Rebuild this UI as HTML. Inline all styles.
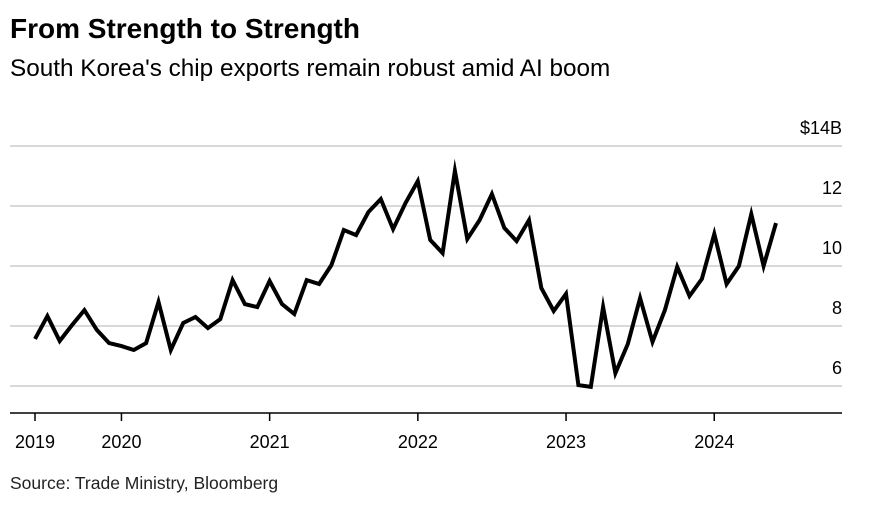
<!DOCTYPE html>
<html><head><meta charset="utf-8">
<style>
body{margin:0;background:#fff;font-family:"Liberation Sans",Arial,sans-serif;}
#wrap{position:relative;width:872px;height:511px;overflow:hidden;}
.t{position:absolute;left:10px;white-space:nowrap;color:#000;}
</style></head><body>
<div id="wrap">
<div class="t" style="top:13px;font-size:28px;font-weight:bold;">From Strength to Strength</div>
<div class="t" style="top:55px;font-size:24.3px;">South Korea's chip exports remain robust amid AI boom</div>
<svg id="chart" width="872" height="511" style="position:absolute;left:0;top:0"></svg>
<div class="t" style="top:473px;font-size:17.5px;color:#222;">Source: Trade Ministry, Bloomberg</div>
</div>
<script>
const values=[7.57,8.33,7.5,8.03,8.53,7.87,7.43,7.33,7.2,7.43,8.8,7.2,8.1,8.3,7.93,8.23,9.53,8.73,8.63,9.5,8.73,8.4,9.53,9.4,10.03,11.2,11.03,11.8,12.23,11.23,12.1,12.83,10.87,10.43,13.17,10.9,11.53,12.4,11.27,10.83,11.53,9.27,8.5,9.07,6.03,5.97,8.63,6.43,7.4,8.93,7.47,8.53,9.97,9.0,9.57,11.07,9.4,10.0,11.73,10.0,11.43];
const startMonthIndex=5; // June 2019 (0-based month)
const startYear=2019;
const yTicks=[6,8,10,12,14];
const yTickLabels=["6","8","10","12","$14B"];
const yearLabels=["2019","2020","2021","2022","2023","2024"];

const NS="http://www.w3.org/2000/svg";
const svg=document.getElementById('chart');
const x0=35,step=12.35,yBase=146,yTop=14,pxPer=30;
function xScale(i){return x0+i*step;}
function yScale(v){return yBase+(yTop-v)*pxPer;}
function mk(tag,attrs){const e=document.createElementNS(NS,tag);for(const k in attrs)e.setAttribute(k,attrs[k]);svg.appendChild(e);return e;}

yTicks.forEach((v,i)=>{
  const g=mk('line',{x1:10,x2:842,y1:yScale(v),y2:yScale(v),stroke:'#d9d9d9','stroke-width':2});
  
  
  const t=mk('text',{x:842,y:yScale(v)-12,'text-anchor':'end','font-size':18,fill:'#000','font-family':'Liberation Sans, Arial, sans-serif'});
  t.textContent=yTickLabels[i];
  
  
});
const ax=mk('line',{x1:10,x2:842,y1:413,y2:413,stroke:'#000','stroke-width':1.5});


yearLabels.forEach((lab,k)=>{
  const idx=Math.max(0,(+lab-startYear)*12-startMonthIndex);
  const x=xScale(idx);
  const tk=mk('line',{x1:x,x2:x,y1:413,y2:421,stroke:'#000','stroke-width':1.5});
  
  
  const t=mk('text',{x:x,y:448,'text-anchor':'middle','font-size':18,fill:'#000','font-family':'Liberation Sans, Arial, sans-serif'});
  t.textContent=lab;
  
  
});
const d=values.map((v,i)=>(i?'L':'M')+xScale(i).toFixed(1)+' '+yScale(v).toFixed(1)).join(' ');
const p=mk('path',{d:d,fill:'none',stroke:'#000','stroke-width':4,'stroke-linejoin':'miter','stroke-miterlimit':10});


</script>
</body></html>
